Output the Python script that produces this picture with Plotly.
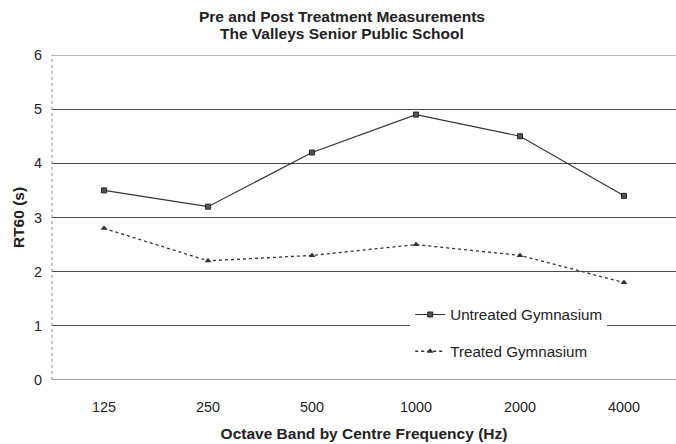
import plotly.graph_objects as go

categories = ["125", "250", "500", "1000", "2000", "4000"]
untreated = [3.5, 3.2, 4.2, 4.9, 4.5, 3.4]
treated = [2.8, 2.2, 2.3, 2.5, 2.3, 1.8]
y_ticks = [0, 1, 2, 3, 4, 5, 6]
title_lines = ["Pre and Post Treatment Measurements", "The Valleys Senior Public School"]

FONT = "Liberation Sans, Arial, sans-serif"
INK = "#222222"

fig = go.Figure()
fig.add_trace(go.Scatter(
    x=categories, y=untreated, name="Untreated Gymnasium", mode="lines+markers",
    line=dict(color="#333333", width=1.2),
    marker=dict(symbol="square", size=5, color="#555555", line=dict(color="#222222", width=1)),
    legendgroup="a",
))
fig.add_trace(go.Scatter(
    x=categories, y=treated, name="Treated Gymnasium", mode="lines+markers",
    line=dict(color="#333333", width=1.3, dash="dot"),
    marker=dict(symbol="triangle-up", size=6, color="#333333"),
    legendgroup="b",
))

annotations = [
    dict(text=f"<b>{title_lines[0]}</b>", xref="paper", yref="paper", x=0.465, y=1.118,
         xanchor="center", yanchor="middle", showarrow=False, font=dict(size=15.5, family=FONT, color=INK)),
    dict(text=f"<b>{title_lines[1]}</b>", xref="paper", yref="paper", x=0.465, y=1.066,
         xanchor="center", yanchor="middle", showarrow=False, font=dict(size=15.5, family=FONT, color=INK)),
]

fig.update_layout(
    width=676, height=444,
    margin=dict(l=52, r=0, t=55, b=64),
    paper_bgcolor="white", plot_bgcolor="white",
    font=dict(family=FONT, color=INK, size=14),
    annotations=annotations,
    xaxis=dict(
        type="category", range=[-0.5, 5.5], showgrid=False, zeroline=False,
        showline=False, ticks="", tickfont=dict(size=14.4), ticklabelstandoff=17,
        title=dict(text="<b>Octave Band by Centre Frequency (Hz)</b>", font=dict(size=15.5), standoff=13),
    ),
    yaxis=dict(
        range=[0, 6], tickvals=y_ticks, showgrid=True, gridcolor="#4a4a4a", gridwidth=1.4,
        zeroline=False, showline=False, ticks="", tickfont=dict(size=14.4), ticklabelstandoff=9,
        title=dict(text="<b>RT60 (s)</b>", font=dict(size=15.5), standoff=5),
    ),
    legend=dict(
        x=0.574, y=0.252, xanchor="left", yanchor="top",
        bgcolor="white", borderwidth=0, font=dict(size=15.2, family=FONT, color=INK),
        tracegroupgap=14, traceorder="grouped",
    ),
    shapes=[
        dict(type="line", xref="paper", yref="paper", x0=0, x1=0, y0=0, y1=1,
             line=dict(color="#888888", width=1, dash="dot")),
        dict(type="line", xref="paper", yref="y", x0=0, x1=1, y0=6, y1=6,
             line=dict(color="#777777", width=1.2)),
        dict(type="line", xref="paper", yref="y", x0=0, x1=1, y0=0, y1=0,
             line=dict(color="#888888", width=1.5)),
    ],
)

fig.write_html("out.html", config={"displayModeBar": False},
               post_script="document.body.style.margin='0';")
